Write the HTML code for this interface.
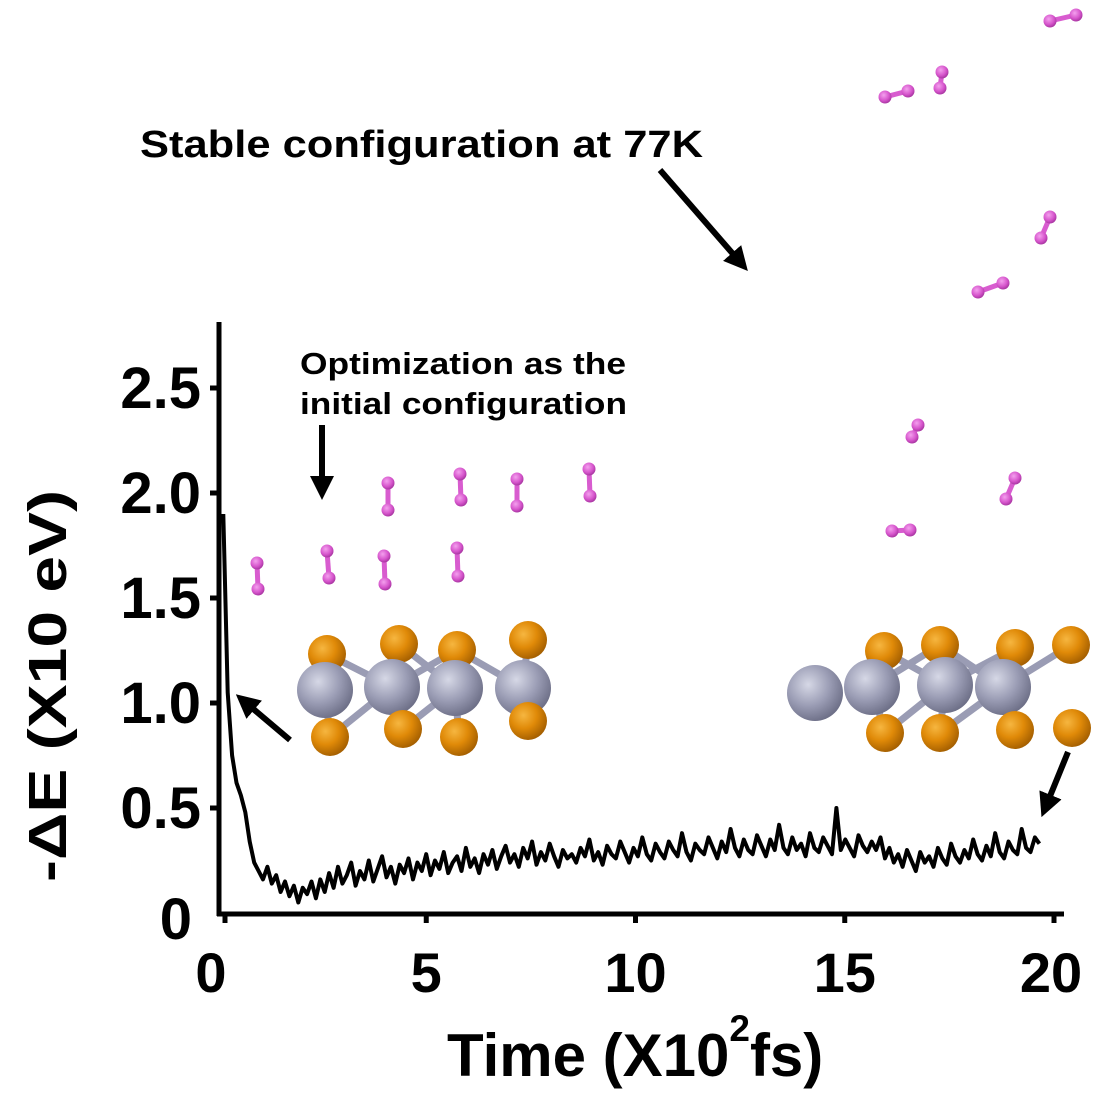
<!DOCTYPE html>
<html><head><meta charset="utf-8"><style>
html,body{margin:0;padding:0;background:#fff;}
svg{display:block;font-family:"Liberation Sans",Arial,sans-serif;font-weight:bold;}
</style></head><body>
<svg id="chart" width="1101" height="1102" viewBox="0 0 1101 1102" xmlns="http://www.w3.org/2000/svg">
<defs>
<radialGradient id="gOr" cx="0.38" cy="0.35" r="0.7"><stop offset="0" stop-color="#f6b640"/><stop offset="0.5" stop-color="#e08a08"/><stop offset="1" stop-color="#a05c00"/></radialGradient>
<radialGradient id="gGr" cx="0.38" cy="0.35" r="0.7"><stop offset="0" stop-color="#d6d8e6"/><stop offset="0.55" stop-color="#9a9cb4"/><stop offset="1" stop-color="#6a6c84"/></radialGradient>
<radialGradient id="gPk" cx="0.4" cy="0.35" r="0.7"><stop offset="0" stop-color="#f4a0ee"/><stop offset="0.6" stop-color="#d655cc"/><stop offset="1" stop-color="#a0309a"/></radialGradient>
<marker id="ah" markerWidth="4" markerHeight="4" refX="2" refY="2" orient="auto" markerUnits="strokeWidth"><path d="M0,0 L4,2 L0,4 z" fill="#000"/></marker>
</defs>
<g id="mols"></g>
<g id="plot"></g>
<text x="140" y="157" font-size="38" textLength="563" lengthAdjust="spacingAndGlyphs">Stable configuration at 77K</text>
<text x="300" y="374" font-size="31" textLength="326" lengthAdjust="spacingAndGlyphs">Optimization as the</text>
<text x="300" y="414" font-size="31" textLength="327" lengthAdjust="spacingAndGlyphs">initial configuration</text>
<g stroke="#000" stroke-width="6" fill="none">
<line x1="660" y1="170" x2="740" y2="262" marker-end="url(#ah)"/>
<line x1="322" y1="425" x2="322" y2="488" marker-end="url(#ah)"/>
<line x1="290" y1="740" x2="245" y2="702" marker-end="url(#ah)"/>
<line x1="1068" y1="752" x2="1046" y2="806" marker-end="url(#ah)"/>
</g>
<text transform="translate(66,686) rotate(-90)" text-anchor="middle" font-size="54" textLength="392" lengthAdjust="spacingAndGlyphs">-ΔE (X10 eV)</text>
<text x="447" y="1076" font-size="60">Time (X10<tspan font-size="37" dy="-35">2</tspan><tspan dy="35">fs)</tspan></text>
</svg>
<script>
const xTicks=[0,5,10,15,20];
const xTickLabels=["0","5","10","15","20"];
const yTicks=[0,0.5,1.0,1.5,2.0,2.5];
const yTickLabels=["0","0.5","1.0","1.5","2.0","2.5"];
const tEnd=19.5;
const energy=[1.90,1.05,0.75,0.62,0.56,0.48,0.34,0.24,0.20,0.16,0.22,0.14,0.18,0.10,0.15,0.08,0.13,0.05,0.12,0.09,
0.15,0.07,0.16,0.10,0.19,0.12,0.22,0.14,0.18,0.24,0.13,0.20,0.16,0.25,0.15,0.21,0.27,0.17,0.22,0.14,
0.23,0.19,0.26,0.16,0.24,0.20,0.28,0.18,0.25,0.21,0.29,0.19,0.24,0.27,0.20,0.31,0.22,0.26,0.19,0.28,
0.23,0.30,0.21,0.27,0.32,0.24,0.28,0.22,0.31,0.26,0.34,0.23,0.29,0.25,0.33,0.27,0.22,0.30,0.26,0.28,
0.24,0.31,0.27,0.35,0.25,0.29,0.23,0.32,0.28,0.26,0.34,0.29,0.24,0.31,0.27,0.36,0.28,0.25,0.33,0.29,
0.26,0.34,0.30,0.27,0.38,0.29,0.25,0.33,0.30,0.28,0.36,0.31,0.26,0.34,0.29,0.40,0.31,0.27,0.35,0.30,
0.28,0.37,0.32,0.27,0.35,0.30,0.42,0.31,0.28,0.36,0.30,0.33,0.27,0.38,0.31,0.29,0.36,0.32,0.28,0.50,
0.30,0.35,0.31,0.27,0.37,0.32,0.29,0.34,0.30,0.36,0.26,0.31,0.24,0.28,0.22,0.30,0.25,0.20,0.29,0.24,
0.27,0.22,0.31,0.26,0.23,0.33,0.27,0.24,0.30,0.26,0.35,0.28,0.25,0.32,0.27,0.38,0.29,0.26,0.34,0.30,
0.28,0.40,0.31,0.29,0.36,0.33];
const NS='http://www.w3.org/2000/svg';
function xS(v){return 217+v*41.85;}
function yS(v){return 913-v*210;}
function mk(tag,attrs,parent){const e=document.createElementNS(NS,tag);for(const k in attrs)e.setAttribute(k,attrs[k]);parent.appendChild(e);return e;}
const plot=document.getElementById('plot');
let ax=mk('line',{x1:219,y1:322,x2:219,y2:916,stroke:'#000','stroke-width':5},plot);


let bx=mk('line',{x1:217,y1:914,x2:1064,y2:914,stroke:'#000','stroke-width':5},plot);


xTicks.forEach((v,i)=>{
 const t=mk('line',{x1:xS(v)+(i==0?8:0),y1:914,x2:xS(v)+(i==0?8:0),y2:923,stroke:'#000','stroke-width':5},plot);
 
 
 const l=mk('text',{x:xS(v)+(i==0?-6:0)+(i==4?-3:0),y:992,'text-anchor':'middle','font-size':56},plot);
 l.textContent=xTickLabels[i];
 
 
});
yTicks.forEach((v,i)=>{
 if(i>0){const t=mk('line',{x1:210,y1:yS(v),x2:219,y2:yS(v),stroke:'#000','stroke-width':5},plot);
 
 }
 const l=mk('text',{x:i==0?192:201,y:yS(v)+20+(i==0?6:0),'text-anchor':'end','font-size':58},plot);
 l.textContent=yTickLabels[i];
 
 
});
const tStep=tEnd/(energy.length-1);
let d='';energy.forEach((v,i)=>{d+=(i?'L':'M')+xS(i*tStep+0.15).toFixed(1)+','+yS(v).toFixed(1);});
const ln=mk('path',{d:d,fill:'none',stroke:'#000','stroke-width':4,'stroke-linejoin':'round'},plot);


const mols=document.getElementById('mols');
function h2(x1,y1,x2,y2){const g=mk('g',{},mols);
 
 
 mk('line',{x1:x1,y1:y1,x2:x2,y2:y2,stroke:'#d85ccf','stroke-width':5},g);
 mk('circle',{cx:x1,cy:y1,r:6.5,fill:'url(#gPk)'},g);mk('circle',{cx:x2,cy:y2,r:6.5,fill:'url(#gPk)'},g);}
[[257,563,258,589],[327,551,329,578],[384,556,385,584],[457,548,458,576],[388,483,388,510],[460,474,461,500],[517,479,517,506],[589,469,590,496],
[1050,21,1076,15],[885,97,908,91],[942,72,940,88],[1050,217,1041,238],[978,292,1003,283],[918,425,912,437],[1015,478,1006,499],[892,531,910,530]].forEach(a=>h2(...a));
function slab(gray,otop,obot,name){const g=mk('g',{},mols);
 
 
 gray.forEach(p=>{otop.concat(obot).forEach(o=>{if(Math.hypot(o[0]-p[0],o[1]-p[1])<80)mk('line',{x1:p[0],y1:p[1],x2:o[0],y2:o[1],stroke:'#9a9cb4','stroke-width':7},g);});});
 otop.forEach(o=>mk('circle',{cx:o[0],cy:o[1],r:19,fill:'url(#gOr)'},g));
 gray.forEach(p=>mk('circle',{cx:p[0],cy:p[1],r:28,fill:'url(#gGr)'},g));
 obot.forEach(o=>mk('circle',{cx:o[0],cy:o[1],r:19,fill:'url(#gOr)'},g));}
slab([[325,690],[392,687],[455,688],[523,688]],[[327,654],[399,644],[457,650],[528,640]],[[330,737],[403,729],[459,737],[528,721]],'initial-structure');
slab([[815,693],[872,687],[945,685],[1003,687]],[[884,651],[940,645],[1015,648],[1071,645]],[[885,733],[940,733],[1015,730],[1072,728]],'stable-structure');
</script>
</body></html>
